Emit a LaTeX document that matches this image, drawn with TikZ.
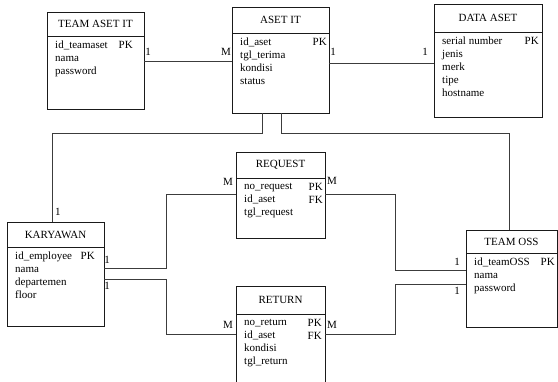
\documentclass[tikz,border=0pt]{standalone}
\usepackage{fontspec}
\setmainfont{Liberation Serif}
\usetikzlibrary{positioning}
\usepackage{xcolor}
\definecolor{ERDBox}{HTML}{1A1A1A}
\definecolor{ERDLine}{HTML}{3C3C3C}
\tikzset{
    % Entity styles - plain boxes with a header line
    entity/.style={
        rectangle,
        draw=ERDBox,
        fill=white,
        line width=0.8pt,
        anchor=north west,
        inner sep=0pt,
        outer sep=0pt
    },
    headline/.style={
        draw=ERDBox,
        line width=0.8pt
    },
    title/.style={
        font=\fontsize{11}{13}\selectfont,
        inner sep=0pt
    },
    attrs/.style={
        font=\fontsize{11}{13}\selectfont,
        align=left,
        anchor=north west,
        inner sep=0pt
    },
    keys/.style={
        font=\fontsize{11}{13}\selectfont,
        align=right,
        anchor=north east,
        inner sep=0pt
    },
    card/.style={
        font=\fontsize{11}{13}\selectfont,
        inner sep=0pt
    },
    % Connector style - elbow lines only
    link/.style={
        draw=ERDLine,
        line width=0.8pt
    }
}

\begin{document}
\begin{tikzpicture}[x=1pt, y=-1pt]
    \fill[white] (0,0) rectangle (558,381);
    \useasboundingbox (0,0) rectangle (558,381);
    \clip (0,0) rectangle (558,381);

    % Entities
    \node[entity, minimum width=97pt, minimum height=97pt] (teamaset) at (47,12) {};
    \draw[headline] (teamaset.west |- 0,36) -- (teamaset.east |- 0,36);
    \node[title] (teamaset-t) at (95.5,24) {TEAM ASET IT};
    \node[attrs] (teamaset-a) at (55,41) {id\_teamaset\\nama\\password};
    \node[keys] (teamaset-k) at (133,41) {PK};

    \node[entity, minimum width=97pt, minimum height=106pt] (asetit) at (232,7) {};
    \draw[headline] (asetit.west |- 0,33) -- (asetit.east |- 0,33);
    \node[title] (asetit-t) at (280.5,20) {ASET IT};
    \node[attrs] (asetit-a) at (240,38) {id\_aset\\tgl\_terima\\kondisi\\status};
    \node[keys] (asetit-k) at (327,38) {PK};

    \node[entity, minimum width=108pt, minimum height=113pt] (dataaset) at (434,4) {};
    \draw[headline] (dataaset.west |- 0,32) -- (dataaset.east |- 0,32);
    \node[title] (dataaset-t) at (488,18) {DATA ASET};
    \node[attrs] (dataaset-a) at (442,37) {serial number\\jenis\\merk\\tipe\\hostname};
    \node[keys] (dataaset-k) at (539,37) {PK};

    \node[entity, minimum width=89pt, minimum height=86pt] (request) at (236,152) {};
    \draw[headline] (request.west |- 0,178) -- (request.east |- 0,178);
    \node[title] (request-t) at (280.5,165) {REQUEST};
    \node[attrs] (request-a) at (244,183) {no\_request\\id\_aset\\tgl\_request};
    \node[keys] (request-k) at (323,183) {PK\\FK};

    \node[entity, minimum width=97pt, minimum height=104pt] (karyawan) at (7,222) {};
    \draw[headline] (karyawan.west |- 0,247) -- (karyawan.east |- 0,247);
    \node[title] (karyawan-t) at (55.5,234.5) {KARYAWAN};
    \node[attrs] (karyawan-a) at (15,252) {id\_employee\\nama\\departemen\\floor};
    \node[keys] (karyawan-k) at (95,252) {PK};

    \node[entity, minimum width=91pt, minimum height=97pt] (teamoss) at (466,230) {};
    \draw[headline] (teamoss.west |- 0,253) -- (teamoss.east |- 0,253);
    \node[title] (teamoss-t) at (511.5,241.5) {TEAM OSS};
    \node[attrs] (teamoss-a) at (474,258) {id\_teamOSS\\nama\\password};
    \node[keys] (teamoss-k) at (555,258) {PK};

    \node[entity, minimum width=89pt, minimum height=120pt] (return) at (236,286) {};
    \draw[headline] (return.west |- 0,314) -- (return.east |- 0,314);
    \node[title] (return-t) at (280.5,300) {RETURN};
    \node[attrs] (return-a) at (244,319) {no\_return\\id\_aset\\kondisi\\tgl\_return};
    \node[keys] (return-k) at (322,319) {PK\\FK};

    % Relations
    \draw[link] (teamaset.east |- 0,61) -- (asetit.west |- 0,61);
    \draw[link] (asetit.east |- 0,63) -- (dataaset.west |- 0,63);
    \draw[link] (asetit.south -| 262,0) |- (52,133) -- (karyawan.north -| 52,0);
    \draw[link] (asetit.south -| 281,0) |- (509,133) -- (teamoss.north -| 509,0);
    \draw[link] (karyawan.east |- 0,268) -- (166,268) |- (request.west |- 0,194);
    \draw[link] (karyawan.east |- 0,279) -- (166,279) |- (return.west |- 0,334);
    \draw[link] (request.east |- 0,194) -- (395,194) |- (teamoss.west |- 0,270);
    \draw[link] (return.east |- 0,334) -- (395,334) |- (teamoss.west |- 0,284);

    % Cardinalities
    \node[card] (c1) at (148,52) {1};
    \node[card] (c2) at (226,52) {M};
    \node[card] (c3) at (333,52) {1};
    \node[card] (c4) at (425,52) {1};
    \node[card] (c5) at (58,212) {1};
    \node[card] (c6) at (107,260) {1};
    \node[card] (c7) at (107,286) {1};
    \node[card] (c8) at (228,182) {M};
    \node[card] (c9) at (228,325) {M};
    \node[card] (c10) at (332,181) {M};
    \node[card] (c11) at (332,325) {M};
    \node[card] (c12) at (457,262) {1};
    \node[card] (c13) at (457,291) {1};
\end{tikzpicture}
\end{document}
